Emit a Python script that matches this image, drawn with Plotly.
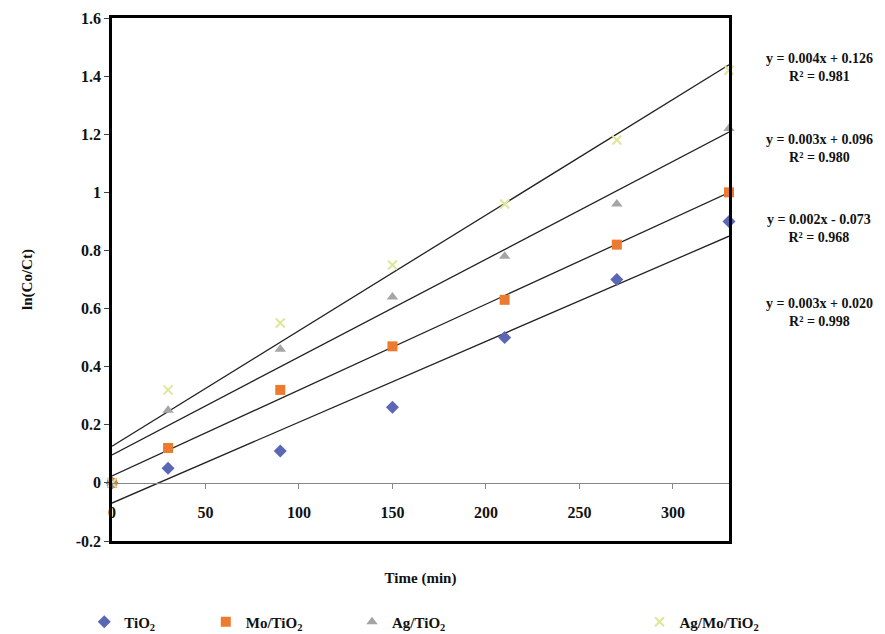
import numpy as np
import plotly.graph_objects as go

time_min = [0, 30, 90, 150, 210, 270, 330]
series_names = ["TiO<sub>2</sub>", "Mo/TiO<sub>2</sub>", "Ag/TiO<sub>2</sub>", "Ag/Mo/TiO<sub>2</sub>"]
tio2 = [0.0, 0.05, 0.11, 0.26, 0.50, 0.70, 0.90]
mo_tio2 = [0.0, 0.12, 0.32, 0.47, 0.63, 0.82, 1.00]
ag_tio2 = [0.0, 0.25, 0.46, 0.64, 0.78, 0.96, 1.22]
ag_mo_tio2 = [0.0, 0.32, 0.55, 0.75, 0.96, 1.18, 1.42]
equations = ["y = 0.004x + 0.126<br>R² = 0.981",
             "y = 0.003x + 0.096<br>R² = 0.980",
             "y = 0.002x - 0.073<br>R² = 0.968",
             "y = 0.003x + 0.020<br>R² = 0.998"]
eq_y = [1.43, 1.15, 0.875, 0.585]

colors = ["#5B66B5", "#EC7B2F", "#A5A5A5", "#DDE79A"]
symbols = ["diamond", "square", "triangle-up", "x-thin"]
FONT = "Liberation Serif"

fig = go.Figure()
all_series = [tio2, mo_tio2, ag_tio2, ag_mo_tio2]
legend_x = [-0.045, 0.152, 0.389, 0.855]
legend_names = ["legend", "legend2", "legend3", "legend4"]

# trend lines
xfit = np.array([0, 330])
for ys in all_series:
    m, b = np.polyfit(time_min, ys, 1)
    fig.add_trace(go.Scatter(x=xfit, y=m * xfit + b, mode="lines",
                             line=dict(color="#222222", width=1.3),
                             showlegend=False, hoverinfo="skip", cliponaxis=False))

for i, ys in enumerate(all_series):
    mk = dict(color=colors[i], size=10, symbol=symbols[i])
    if symbols[i] == "x-thin":
        mk.update(line=dict(color=colors[i], width=2), size=9)
    fig.add_trace(go.Scatter(x=time_min, y=ys, mode="markers", name=series_names[i],
                             marker=mk, legend=legend_names[i], cliponaxis=False))

for txt, yv in zip(equations, eq_y):
    fig.add_annotation(x=1.146, xref="paper", xanchor="center", y=yv, yref="y",
                       text="<b>" + txt + "</b>",
                       showarrow=False, font=dict(family=FONT, size=14, color="#111"),
                       align="center")

leg_common = dict(orientation="h", y=-0.155, yanchor="middle", xanchor="left",
                  font=dict(family=FONT, size=15, color="#111", weight="bold"),
                  bgcolor="rgba(0,0,0,0)", itemwidth=30)
layout_legends = {}
for name, lx in zip(legend_names, legend_x):
    layout_legends[name] = dict(leg_common, x=lx)

fig.update_layout(
    width=885, height=634,
    margin=dict(l=112, r=156, t=18, b=93, autoexpand=False),
    paper_bgcolor="white", plot_bgcolor="white",
    font=dict(family=FONT, color="#111"),
    xaxis=dict(range=[0, 330], showline=True, linecolor="black", linewidth=2.5, mirror=True,
               showticklabels=False, ticks="", showgrid=False, zeroline=False, automargin=False,
               title=dict(text="<b>Time (min)</b>", font=dict(family=FONT, size=15), standoff=30)),
    xaxis2=dict(range=[0, 330], overlaying="x", anchor="free", position=0.2 / 1.8,
                showline=True, linecolor="#888", linewidth=1, ticks="outside", ticklen=5,
                tickcolor="#888", tickvals=[0, 50, 100, 150, 200, 250, 300],
                tickfont=dict(family=FONT, size=16, color="#111", weight="bold"),
                ticklabelstandoff=10, showgrid=False, zeroline=False, side="bottom",
                automargin=False),
    yaxis=dict(range=[-0.2, 1.6], dtick=0.2, showline=True, linecolor="black", linewidth=2.5,
               mirror=True, ticks="outside", ticklen=5, showgrid=False, zeroline=False,
               automargin=False,
               tickvals=[-0.2, 0, 0.2, 0.4, 0.6, 0.8, 1.0, 1.2, 1.4, 1.6],
               ticktext=["-0.2", "0", "0.2", "0.4", "0.6", "0.8", "1", "1.2", "1.4", "1.6"],
               tickfont=dict(family=FONT, size=16, color="#111", weight="bold"),
               title=dict(text="<b>ln(Co/Ct)</b>", font=dict(family=FONT, size=15), standoff=40)),
    **layout_legends,
)
# dummy trace to activate xaxis2
fig.add_trace(go.Scatter(x=[0], y=[None], xaxis="x2", showlegend=False, hoverinfo="skip"))

fig.write_html("out.html", config={"displayModeBar": False},
               post_script="document.body.style.margin='0px';")
